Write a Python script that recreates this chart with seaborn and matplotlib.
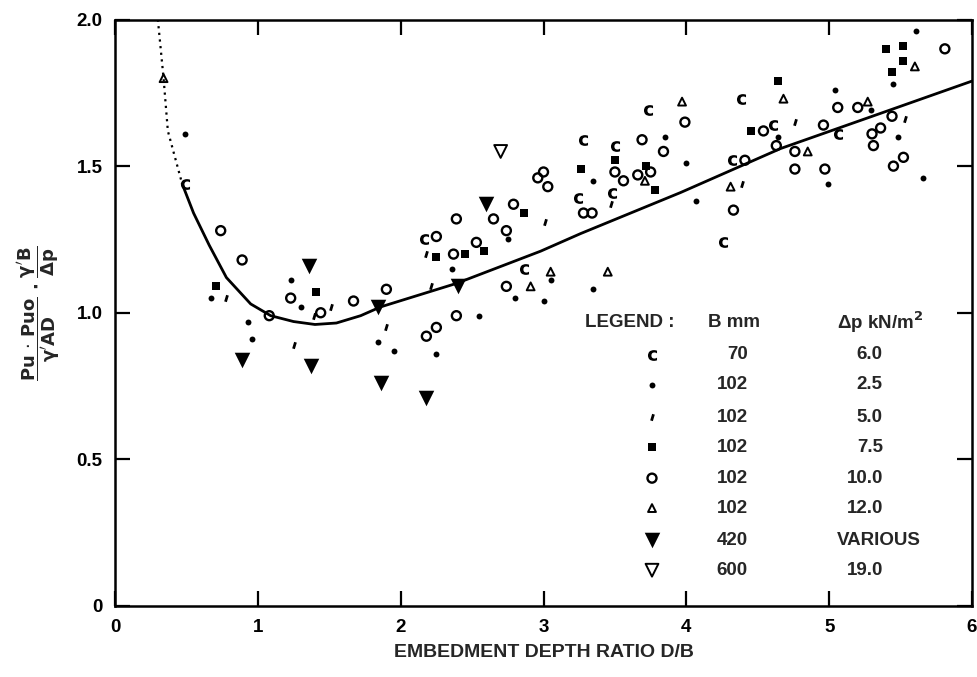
import matplotlib
matplotlib.use("Agg")
import matplotlib.pyplot as plt
import seaborn as sns
import numpy as np
import pandas as pd
from matplotlib.path import Path

sns.set_style("ticks")
plt.rcParams['font.family'] = ['Liberation Sans', 'DejaVu Sans']
plt.rcParams['mathtext.fontset'] = 'dejavusans'

# ---------------- data ----------------
# fitted curve (dotted part, then solid part)
curve_dot_x = [0.30, 0.34, 0.37, 0.47]
curve_dot_y = [2.00, 1.80, 1.62, 1.44]
curve_x = [0.47, 0.55, 0.66, 0.78, 0.95, 1.09, 1.25, 1.40, 1.55, 1.72, 1.86,
           2.39, 2.98, 3.26, 3.96, 4.66, 5.36, 6.00]
curve_y = [1.44, 1.34, 1.23, 1.12, 1.03, 0.99, 0.97, 0.96, 0.965, 0.99, 1.02,
           1.10, 1.21, 1.27, 1.41, 1.56, 1.68, 1.79]

# B = 70 mm, dp = 6.0
c70_x = [0.49, 2.16, 2.86, 3.28, 3.24, 3.50, 3.48, 3.73, 4.38, 4.61, 4.32, 4.26, 5.06]
c70_y = [1.44, 1.25, 1.15, 1.59, 1.39, 1.57, 1.41, 1.69, 1.73, 1.64, 1.52, 1.24, 1.61]

# B = 102 mm, dp = 2.5
d25_x = [0.49, 0.67, 0.93, 0.96, 1.23, 1.30, 1.84, 1.95, 2.25, 2.55, 2.36, 2.75, 2.80,
         3.00, 3.05, 3.35, 3.35, 3.85, 4.00, 4.07, 4.64, 4.99, 5.04, 5.29, 5.45, 5.61,
         5.48, 5.66]
d25_y = [1.61, 1.05, 0.97, 0.91, 1.11, 1.02, 0.90, 0.87, 0.86, 0.99, 1.15, 1.25, 1.05,
         1.04, 1.11, 1.08, 1.45, 1.60, 1.51, 1.38, 1.60, 1.44, 1.76, 1.69, 1.78, 1.96,
         1.60, 1.46]

# B = 102 mm, dp = 5.0
d50_x = [0.78, 1.39, 1.51, 1.25, 1.90, 2.21, 2.18, 3.01, 3.47, 4.39, 4.76, 5.53]
d50_y = [1.05, 0.99, 1.02, 0.89, 0.95, 1.09, 1.20, 1.31, 1.37, 1.44, 1.65, 1.66]

# B = 102 mm, dp = 7.5
d75_x = [0.71, 1.41, 2.25, 2.45, 2.58, 2.86, 3.26, 3.50, 3.72, 3.78, 4.45, 4.64,
         5.40, 5.52, 5.52, 5.44]
d75_y = [1.09, 1.07, 1.19, 1.20, 1.21, 1.34, 1.49, 1.52, 1.50, 1.42, 1.62, 1.79,
         1.90, 1.91, 1.86, 1.82]

# B = 102 mm, dp = 10.0
d100_x = [0.74, 0.89, 1.08, 1.23, 1.44, 1.67, 1.90, 2.18, 2.25, 2.39, 2.25, 2.39,
          2.37, 2.53, 2.65, 2.79, 2.74, 2.74, 2.96, 3.00, 3.03, 3.28, 3.34, 3.50,
          3.56, 3.66, 3.75, 3.69, 3.84, 3.99, 4.41, 4.33, 4.54, 4.63, 4.76, 4.76,
          4.96, 4.97, 5.06, 5.20, 5.44, 5.30, 5.36, 5.31, 5.52, 5.45, 5.81]
d100_y = [1.28, 1.18, 0.99, 1.05, 1.00, 1.04, 1.08, 0.92, 0.95, 0.99, 1.26, 1.32,
          1.20, 1.24, 1.32, 1.37, 1.28, 1.09, 1.46, 1.48, 1.43, 1.34, 1.34, 1.48,
          1.45, 1.47, 1.48, 1.59, 1.55, 1.65, 1.52, 1.35, 1.62, 1.57, 1.55, 1.49,
          1.64, 1.49, 1.70, 1.70, 1.67, 1.61, 1.63, 1.57, 1.53, 1.50, 1.90]

# B = 102 mm, dp = 12.0
d120_x = [0.34, 2.91, 3.05, 3.45, 3.71, 3.97, 4.31, 4.68, 4.85, 5.27, 5.60]
d120_y = [1.80, 1.09, 1.14, 1.14, 1.45, 1.72, 1.43, 1.73, 1.55, 1.72, 1.84]

# B = 420 mm, dp various
b420_x = [0.89, 1.36, 1.37, 1.86, 2.18, 1.84, 2.40, 2.60]
b420_y = [0.84, 1.16, 0.82, 0.76, 0.71, 1.02, 1.09, 1.37]

# B = 600 mm, dp = 19.0
b600_x = [2.70]
b600_y = [1.55]

legend_B = ["70", "102", "102", "102", "102", "102", "420", "600"]
legend_dp = ["6.0", "2.5", "5.0", "7.5", "10.0", "12.0", "VARIOUS", "19.0"]

x_ticks = [0, 1, 2, 3, 4, 5, 6]
y_ticks = [0, 0.5, 1.0, 1.5, 2.0]
y_ticklabels = ["0", "0.5", "1.0", "1.5", "2.0"]

# ---------------- styles ----------------
tick_path = Path([(-0.3, -1.0), (0.3, 1.0)], [Path.MOVETO, Path.LINETO])
styles = [
    dict(marker=r'$\mathbf{c}$', s=60, facecolor='black', edgecolor='black', linewidth=0),
    dict(marker='o', s=18, facecolor='black', edgecolor='black', linewidth=0),
    dict(marker=tick_path, s=22, facecolor='black', edgecolor='black', linewidth=2.0),
    dict(marker='s', s=28, facecolor='black', edgecolor='black', linewidth=0),
    dict(marker='o', s=42, facecolor='none', edgecolor='black', linewidth=1.7),
    dict(marker='^', s=32, facecolor='none', edgecolor='black', linewidth=1.4),
    dict(marker='v', s=125, facecolor='black', edgecolor='black', linewidth=0),
    dict(marker='v', s=85, facecolor='none', edgecolor='black', linewidth=1.4),
]
groups = [(c70_x, c70_y), (d25_x, d25_y), (d50_x, d50_y), (d75_x, d75_y),
          (d100_x, d100_y), (d120_x, d120_y), (b420_x, b420_y), (b600_x, b600_y)]

# ---------------- figure ----------------
fig = plt.figure(figsize=(9.77, 6.77), dpi=100)
ax = fig.add_axes([115/977, 1-606/677, 857/977, 586.5/677])

sns.lineplot(x=curve_dot_x, y=curve_dot_y, ax=ax, color='black', linewidth=1.6,
             linestyle=(0, (1, 2)), sort=False, estimator=None)
sns.lineplot(x=curve_x, y=curve_y, ax=ax, color='black', linewidth=2.0,
             sort=False, estimator=None)

for (gx, gy), st in zip(groups, styles):
    sns.scatterplot(x=gx, y=gy, ax=ax, zorder=3, **st)

ax.set_xlim(0, 6)
ax.set_ylim(0, 2.0)
ax.set_xticks(x_ticks)
ax.set_xticklabels([str(t) for t in x_ticks])
ax.set_yticks(y_ticks)
ax.set_yticklabels(y_ticklabels)
ax.tick_params(direction='in', length=11, width=1.6, top=True, right=True,
               labelsize=13.5, colors='black')
ax.tick_params(axis='x', pad=9)
ax.tick_params(axis='y', pad=9)
for lab in ax.get_xticklabels() + ax.get_yticklabels():
    lab.set_fontweight('bold')
for sp in ax.spines.values():
    sp.set_visible(True)
    sp.set_linewidth(1.8)
    sp.set_color('black')

ax.set_xlabel("EMBEDMENT DEPTH RATIO D/B", fontsize=14, fontweight='bold', labelpad=6)
ax.set_ylabel(r"$\dfrac{\mathbf{Pu}\,\cdot\,\mathbf{Puo}}{\mathbf{\gamma'AD}}\ \mathbf{\cdot}\ \dfrac{\mathbf{\gamma'B}}{\mathbf{\Delta p}}$",
              fontsize=13)
ax.yaxis.set_label_coords(-0.062, 0.5)

# ---------------- legend (text table) ----------------
tr = ax.transAxes
row_y = [0.428, 0.377, 0.322, 0.271, 0.218, 0.167, 0.112, 0.061]
fs = 13.5
ax.text(0.548, 0.484, "LEGEND :", transform=tr, fontsize=fs, fontweight='bold', va='center', ha='left')
ax.text(0.692, 0.484, "B mm", transform=tr, fontsize=fs, fontweight='bold', va='center', ha='left')
ax.text(0.8425, 0.484, r"Δp kN/m$^\mathbf{2}$", transform=tr, fontsize=fs, fontweight='bold', va='center', ha='left')
for yy, st, b, dp in zip(row_y, styles, legend_B, legend_dp):
    ax.scatter([0.6266], [yy], transform=tr, clip_on=False, zorder=4, **st)
    ax.text(0.7386, yy, b, transform=tr, fontsize=fs, fontweight='bold', va='center', ha='right')
    if dp == "VARIOUS":
        ax.text(0.8425, yy, dp, transform=tr, fontsize=fs, fontweight='bold', va='center', ha='left')
    else:
        ax.text(0.896, yy, dp, transform=tr, fontsize=fs, fontweight='bold', va='center', ha='right')

fig.savefig("out.png", dpi=100, facecolor='white')
